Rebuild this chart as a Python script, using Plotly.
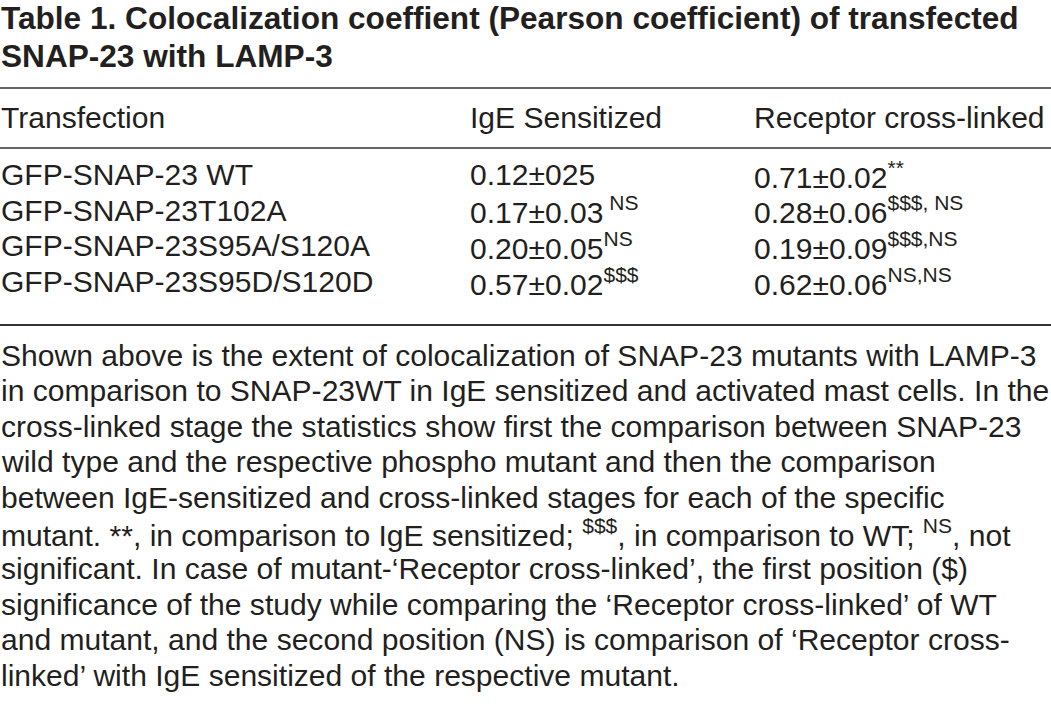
import plotly.graph_objects as go

# ---- data ----
title_lines = [
    "Table 1. Colocalization coeffient (Pearson coefficient) of transfected",
    "SNAP-23 with LAMP-3",
]
column_headers = ["Transfection", "IgE Sensitized", "Receptor cross-linked"]
transfections = [
    "GFP-SNAP-23 WT",
    "GFP-SNAP-23T102A",
    "GFP-SNAP-23S95A/S120A",
    "GFP-SNAP-23S95D/S120D",
]
ige_values = ["0.12±025", "0.17±0.03", "0.20±0.05", "0.57±0.02"]
ige_sup = ["", " NS", "NS", "$$$"]
crosslinked_values = ["0.71±0.02", "0.28±0.06", "0.19±0.09", "0.62±0.06"]
crosslinked_sup = ["**", "$$$, NS", "$$$,NS", "NS,NS"]
footnote_lines = [
    "Shown above is the extent of colocalization of SNAP-23 mutants with LAMP-3",
    "in comparison to SNAP-23WT in IgE sensitized and activated mast cells. In the",
    "cross-linked stage the statistics show first the comparison between SNAP-23",
    "wild type and the respective phospho mutant and then the comparison",
    "between IgE-sensitized and cross-linked stages for each of the specific",
    "mutant. **, in comparison to IgE sensitized; <sup>$$$</sup>, in comparison to WT; <sup>NS</sup>, not",
    "significant. In case of mutant-‘Receptor cross-linked’, the first position ($)",
    "significance of the study while comparing the ‘Receptor cross-linked’ of WT",
    "and mutant, and the second position (NS) is comparison of ‘Receptor cross-",
    "linked’ with IgE sensitized of the respective mutant.",
]

# ---- layout constants ----
W, H = 1051, 723
TXT = "#231f20"
FONT = "Liberation Sans, Arial, sans-serif"
BODY = 30.05
TITLE = 31.6
col_x = [0, 469, 753]
title_y = [18, 56]
header_y = 117
row_y0, row_dy = 174.5, 35.7
foot_y0, foot_dy = 355, 35.6
rules = [(88, 1.6), (148, 1.6), (325, 2.2)]

fig = go.Figure()
ann = []
for i, t in enumerate(title_lines):
    ann.append(dict(x=col_x[0], y=title_y[i], text=f"<b>{t}</b>",
                    font=dict(size=TITLE, color=TXT, family=FONT)))
for j, h in enumerate(column_headers):
    ann.append(dict(x=col_x[j], y=header_y, text=h,
                    font=dict(size=BODY, color=TXT, family=FONT)))
for i, name in enumerate(transfections):
    y = row_y0 + i * row_dy
    ann.append(dict(x=col_x[0], y=y, text=name,
                    font=dict(size=BODY, color=TXT, family=FONT)))
    s = ige_values[i] + (f"<sup>{ige_sup[i]}</sup>" if ige_sup[i] else "")
    ann.append(dict(x=col_x[1], y=y, text=s,
                    font=dict(size=BODY, color=TXT, family=FONT)))
    s = crosslinked_values[i] + (f"<sup>{crosslinked_sup[i]}</sup>" if crosslinked_sup[i] else "")
    ann.append(dict(x=col_x[2], y=y, text=s,
                    font=dict(size=BODY, color=TXT, family=FONT)))
for i, line in enumerate(footnote_lines):
    ann.append(dict(x=col_x[0], y=foot_y0 + i * foot_dy, text=line,
                    font=dict(size=BODY, color=TXT, family=FONT)))

for a in ann:
    a.update(xref="x", yref="y", xanchor="left", yanchor="middle",
             showarrow=False, borderpad=0)

shapes = [dict(type="line", xref="x", yref="y", x0=0, x1=W, y0=y, y1=y,
               line=dict(color="#333333", width=w)) for y, w in rules]

fig.update_layout(
    width=W, height=H,
    margin=dict(l=0, r=0, t=0, b=0),
    paper_bgcolor="white", plot_bgcolor="white",
    xaxis=dict(range=[0, W], visible=False, fixedrange=True),
    yaxis=dict(range=[H, 0], visible=False, fixedrange=True),
    annotations=ann, shapes=shapes, showlegend=False,
)
fig.write_html(
    "out.html",
    config={"displayModeBar": False},
    post_script="document.body.style.margin='0';document.body.style.overflow='hidden';",
)
